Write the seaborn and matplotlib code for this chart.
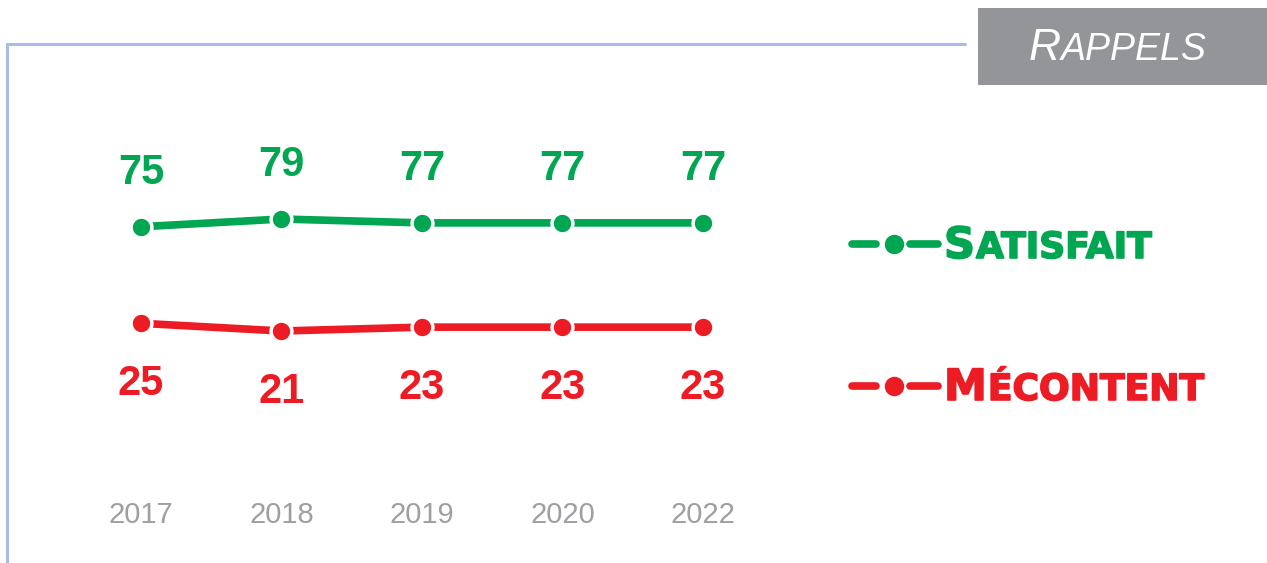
import pandas as pd
import numpy as np
import matplotlib.pyplot as plt
import seaborn as sns
from matplotlib.lines import Line2D
from matplotlib.patches import Rectangle
import matplotlib.patheffects as pe

sns.set_theme(style="white")
plt.rcParams['font.family'] = ['Liberation Sans', 'DejaVu Sans']

# Data
years = ["2017", "2018", "2019", "2020", "2022"]
satisfait = [75, 79, 77, 77, 77]
mecontent = [25, 21, 23, 23, 23]

green = "#00a651"
red = "#ed1c24"
grey_txt = "#9d9fa2"
frame_col = "#a9bbe8"

df = pd.DataFrame({
    "Année": years * 2,
    "Valeur": satisfait + mecontent,
    "Série": ["Satisfait"] * len(years) + ["Mécontent"] * len(years),
})

fig = plt.figure(figsize=(12.67, 5.63), dpi=100)
ax = fig.add_axes([0.0558, 0.1343, 0.5545, 0.5487])

sns.lineplot(data=df, x="Année", y="Valeur", hue="Série",
             palette={"Satisfait": green, "Mécontent": red},
             marker="o", markersize=15, markeredgecolor="white",
             markeredgewidth=2.5, linewidth=5.5, legend=False, ax=ax)

ax.set_xlim(-0.5, len(years) - 0.5)
ax.set_ylim(-60, 100)
ax.set_yticks([])
ax.set_xlabel("")
ax.set_ylabel("")
ax.tick_params(axis="x", length=0, pad=10, labelsize=21, labelcolor=grey_txt)
for s in ax.spines.values():
    s.set_visible(False)
ax.patch.set_alpha(0)

# value labels
for i, (g, r) in enumerate(zip(satisfait, mecontent)):
    ax.annotate(str(g), (i, g), xytext=(0, 39), textcoords="offset points",
                ha="center", va="center", fontsize=30, fontweight="bold", color=green)
    ax.annotate(str(r), (i, r), xytext=(0, -44), textcoords="offset points",
                ha="center", va="center", fontsize=30, fontweight="bold", color=red)

W, H = 1267, 563
def fx(px):
    return px / W
def fy(py):
    return 1 - py / H

# frame lines
fig.add_artist(Line2D([fx(7), fx(965)], [fy(44), fy(44)], color=frame_col, lw=2.2))
fig.add_artist(Line2D([fx(7), fx(7)], [fy(44), fy(563)], color=frame_col, lw=2.2))

# title box
fig.add_artist(Rectangle((fx(978), fy(85)), fx(1267) - fx(978), fy(8) - fy(85),
                         transform=fig.transFigure, color="#939598", lw=0, zorder=1))


def small_caps(x, y, first, rest, size1, size2, gap=0, **kw):
    t = fig.text(x, y, first, fontsize=size1, ha="left", va="baseline", zorder=3, **kw)
    fig.canvas.draw()
    bb = t.get_window_extent()
    fig.text((bb.x1 + gap) / W, y, rest, fontsize=size2, ha="left", va="baseline",
             zorder=3, **kw)


small_caps(fx(1029), fy(60), "R", "APPELS", 32, 27, gap=0,
           style="italic", color="white")

# custom legend
def legend_entry(py, color, first, rest):
    fig.add_artist(Line2D([fx(852), fx(876)], [fy(py), fy(py)], color=color, lw=5.5,
                          solid_capstyle="round"))
    fig.add_artist(Line2D([fx(910), fx(938)], [fy(py), fy(py)], color=color, lw=5.5,
                          solid_capstyle="round"))
    fig.add_artist(Line2D([fx(894)], [fy(py)], color=color, marker="o", markersize=14,
                          markeredgewidth=0, linestyle="none"))
    small_caps(fx(944), fy(py + 14), first, rest, 31, 26, gap=1,
               family=["DejaVu Sans"], fontweight="bold", color=color,
               path_effects=[pe.withStroke(linewidth=1.2, foreground=color)])

legend_entry(244, green, "S", "ATISFAIT")
legend_entry(386, red, "M", "ÉCONTENT")

plt.savefig("out.png", dpi=100)
